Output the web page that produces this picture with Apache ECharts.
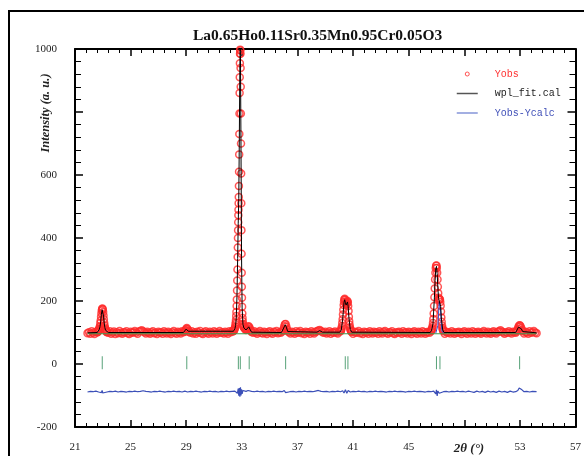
<!DOCTYPE html>
<head>
  <meta charset="utf-8">
  <title>La0.65Ho0.11Sr0.35Mn0.95Cr0.05O3</title>
  <script src="https://cdn.jsdelivr.net/npm/echarts@6/dist/echarts.min.js"></script>
  <style>
    html, body { margin: 0; padding: 0; background: #fff; }
  </style>
</head>
<body>
  <div id="main" style="width: 584px;height:456px;"></div>
  <script>
    // observed intensity [2theta, counts]
    var yObs = [
      [21.9,98],[22.0,101],[22.1,96],[22.2,104],[22.3,99],[22.4,95],[22.5,102],[22.6,100],
      [22.625,102],[22.65,103],[22.675,106],[22.7,107],[22.725,110],[22.75,112],[22.775,117],[22.8,121],[22.825,130],[22.85,138],[22.875,150],[22.9,160],[22.925,170],[22.95,175],[22.975,176],[23.0,173],[23.025,165],[23.05,154],[23.075,142],[23.1,131],[23.125,122],[23.15,116],[23.175,111],[23.2,108],[23.225,106],[23.25,104],[23.275,102],[23.3,101],
      [23.4,99],[23.5,104],[23.6,96],[23.7,100],[23.8,103],[23.9,95],[24.0,101],[24.1,98],[24.2,105],[24.3,99],[24.4,96],[24.5,101],[24.6,100],[24.7,104],[24.8,98],[24.9,95],[25.0,102],[25.1,99],[25.2,101],[25.3,105],[25.4,100],[25.5,96],[25.6,103],[25.7,105],[25.8,107],[25.9,104],[26.0,101],[26.1,97],[26.2,102],[26.3,99],[26.4,96],[26.5,101],[26.6,104],[26.7,98],[26.8,100],[26.9,95],[27.0,102],[27.1,99],[27.2,101],[27.3,96],[27.4,104],[27.5,100],[27.6,97],[27.7,102],[27.8,99],[27.9,95],[28.0,101],[28.1,105],[28.2,99],[28.3,96],[28.4,102],[28.5,100],[28.6,97],[28.7,104],[28.8,101],
      [28.85,102],[28.9,105],[28.95,108],[29.0,112],[29.05,114],[29.1,110],[29.15,105],[29.2,102],
      [29.3,99],[29.4,104],[29.5,97],[29.6,101],[29.7,96],[29.8,102],[29.9,100],[30.0,105],[30.1,98],[30.2,95],[30.3,101],[30.4,104],[30.5,99],[30.6,96],[30.7,102],[30.8,100],[30.9,97],[31.0,104],[31.1,101],[31.2,96],[31.3,100],[31.4,105],[31.5,99],[31.6,101],[31.7,97],[31.8,102],[31.9,100],[32.0,96],[32.1,104],[32.2,101],[32.3,105],[32.35,103],
      [32.4,105],[32.425,106],[32.45,108],[32.475,111],[32.5,114],[32.525,119],[32.55,126],[32.565,132],[32.58,140],[32.595,152],[32.61,165],[32.625,184],[32.64,205],[32.655,233],[32.67,265],[32.685,300],[32.7,340],[32.71,370],[32.72,400],[32.73,425],[32.74,450],[32.75,472],[32.76,490],[32.77,510],[32.78,530],[32.79,565],[32.8,610],[32.81,665],[32.82,730],[32.83,795],[32.84,860],[32.85,910],[32.86,955],[32.87,985],[32.88,998],[32.89,995],[32.9,985],[32.91,940],[32.92,880],[32.93,795],[32.94,700],[32.95,605],[32.96,510],[32.97,425],[32.98,350],[32.99,290],[33.0,245],[33.01,210],[33.02,182],[33.035,160],[33.05,146],[33.065,136],[33.08,128],[33.095,124],[33.11,120],[33.13,118],[33.15,116],[33.2,113],[33.25,110],[33.3,108],
      [33.35,110],[33.4,113],[33.45,118],[33.5,120],[33.55,116],[33.6,110],[33.65,105],[33.7,102],[33.8,99],[33.9,104],[34.0,100],[34.1,96],[34.2,101],[34.3,105],[34.4,99],[34.5,97],[34.6,102],[34.7,100],[34.8,95],[34.9,101],[35.0,104],[35.1,99],[35.2,96],[35.3,102],[35.4,100],[35.5,105],[35.6,98],[35.7,101],[35.8,99],
      [35.9,103],[35.95,106],[36.0,112],[36.05,120],[36.1,126],[36.15,127],[36.2,119],[36.25,110],[36.3,104],
      [36.4,101],[36.5,97],[36.6,102],[36.7,100],[36.8,96],[36.9,104],[37.0,99],[37.1,101],[37.2,105],[37.3,98],[37.4,100],[37.5,95],[37.6,102],[37.7,99],[37.8,101],[37.9,96],[38.0,104],[38.1,100],[38.2,97],[38.3,102],[38.4,104],[38.5,106],[38.6,108],[38.7,105],[38.8,101],[38.9,99],[39.0,102],[39.1,97],[39.2,100],[39.3,104],[39.4,96],[39.5,101],[39.6,99],[39.7,103],[39.8,100],[39.9,97],[40.0,103],
      [40.1,104],[40.125,106],[40.15,109],[40.175,114],[40.2,120],[40.225,130],[40.25,142],[40.275,157],[40.3,172],[40.325,187],[40.35,198],[40.375,205],[40.4,207],[40.425,203],[40.45,197],[40.475,191],[40.5,188],[40.525,190],[40.55,194],[40.575,198],[40.6,200],[40.625,195],[40.65,184],[40.675,168],[40.7,150],[40.725,136],[40.75,125],[40.775,117],[40.8,112],[40.825,108],[40.85,105],[40.875,103],[40.9,102],
      [41.0,96],[41.1,102],[41.2,99],[41.3,101],[41.4,105],[41.5,98],[41.6,100],[41.7,95],[41.8,102],[41.9,99],[42.0,101],[42.1,96],[42.2,104],[42.3,100],[42.4,97],[42.5,102],[42.6,99],[42.7,101],[42.8,96],[42.9,104],[43.0,100],[43.1,97],[43.2,102],[43.3,105],[43.4,99],[43.5,96],[43.6,101],[43.7,100],[43.8,104],[43.9,98],[44.0,95],[44.1,101],[44.2,99],[44.3,102],[44.4,100],[44.5,96],[44.6,104],[44.7,99],[44.8,101],[44.9,97],[45.0,102],[45.1,100],[45.2,95],[45.3,101],[45.4,104],[45.5,99],[45.6,96],[45.7,102],[45.8,100],[45.9,97],[46.0,104],[46.1,101],[46.2,96],[46.3,100],[46.4,102],[46.5,99],
      [46.6,104],[46.625,106],[46.65,108],[46.675,111],[46.7,115],[46.725,121],[46.75,130],[46.775,143],[46.8,160],[46.825,184],[46.85,212],[46.875,240],[46.9,268],[46.925,290],[46.95,305],[46.975,312],[47.0,313],[47.025,305],[47.05,290],[47.075,268],[47.1,245],[47.125,225],[47.15,210],[47.175,205],[47.2,204],[47.225,206],[47.25,205],[47.275,197],[47.3,185],[47.325,167],[47.35,148],[47.375,134],[47.4,122],[47.425,115],[47.45,110],[47.475,107],[47.5,104],
      [47.6,96],[47.7,102],[47.8,99],[47.9,101],[48.0,97],[48.1,104],[48.2,100],[48.3,96],[48.4,101],[48.5,99],[48.6,102],[48.7,100],[48.8,95],[48.9,101],[49.0,104],[49.1,99],[49.2,96],[49.3,102],[49.4,100],[49.5,97],[49.6,104],[49.7,101],[49.8,96],[49.9,100],[50.0,102],[50.1,99],[50.2,96],[50.3,101],[50.4,105],[50.5,100],[50.6,97],[50.7,102],[50.8,99],[50.9,96],[51.0,101],[51.1,104],[51.2,100],[51.3,97],[51.4,102],[51.5,104],[51.6,107],[51.7,103],[51.8,100],[51.9,96],[52.0,101],[52.1,99],[52.2,104],[52.3,100],[52.4,97],[52.5,102],[52.6,101],[52.7,99],
      [52.75,103],[52.8,107],[52.85,112],[52.9,118],[52.95,122],[53.0,123],[53.05,120],[53.1,114],[53.15,108],[53.2,104],
      [53.3,97],[53.4,102],[53.5,100],[53.6,96],[53.7,104],[53.8,99],[53.9,101],[54.0,105],[54.1,100],[54.2,98]
    ];

    // calculated profile
    var yCalc = [
      [21.9,99],[22.6,100],[22.7,105],[22.75,110],[22.8,119],[22.85,136],[22.9,158],[22.95,172],[23.0,170],[23.05,152],[23.1,130],[23.15,115],[23.2,107],[23.3,101],[23.4,100],
      [28.8,100],[28.9,104],[29.0,111],[29.05,112],[29.15,104],[29.25,100],
      [32.4,104],[32.5,112],[32.55,122],[32.6,145],[32.65,215],[32.7,335],[32.74,445],[32.78,525],[32.82,720],[32.86,950],[32.88,1000],[32.9,980],[32.94,690],[32.98,340],[33.02,178],[33.08,126],[33.15,114],[33.3,108],[33.4,112],[33.5,118],[33.6,109],[33.7,101],
      [35.85,100],[35.95,105],[36.05,118],[36.12,125],[36.2,117],[36.3,103],[36.4,100],
      [38.4,101],[38.6,106],[38.8,101],[40.05,101],[40.15,108],[40.25,140],[40.35,196],[40.4,204],[40.45,194],[40.5,187],[40.55,192],[40.6,197],[40.65,182],[40.7,148],[40.8,110],[40.9,101],[41.0,100],
      [46.55,100],[46.65,107],[46.75,128],[46.85,210],[46.9,265],[46.95,303],[47.0,310],[47.05,287],[47.1,242],[47.15,208],[47.2,202],[47.25,203],[47.3,183],[47.35,146],[47.45,108],[47.55,100],
      [52.7,100],[52.8,106],[52.9,117],[53.0,121],[53.1,112],[53.2,103],[53.3,100],[54.2,99]
    ];

    // difference curve, shifted below the pattern
    var yDiff = [
      [21.9,-89],[22.1,-87],[22.3,-88],[22.5,-86],[22.7,-89],[22.8,-85],[22.9,-91],[22.95,-84],[23.0,-92],[23.1,-86],[23.3,-89],[23.5,-87],[23.7,-88],[23.9,-86],[24.1,-89],[24.3,-87],[24.5,-88],[24.7,-89],[24.9,-87],[25.1,-88],[25.3,-86],[25.5,-88],[25.7,-87],[25.9,-85],[26.1,-87],[26.3,-88],[26.5,-89],[26.7,-87],[26.9,-88],[27.1,-86],[27.3,-88],[27.5,-89],[27.7,-87],[27.9,-88],[28.1,-86],[28.3,-88],[28.5,-87],[28.7,-89],[28.9,-86],[29.0,-83],[29.1,-89],[29.3,-87],[29.5,-88],[29.7,-86],[29.9,-88],[30.1,-89],[30.3,-87],[30.5,-88],[30.7,-86],[30.9,-88],[31.1,-87],[31.3,-89],[31.5,-87],[31.7,-88],[31.9,-86],[32.1,-88],[32.3,-87],[32.5,-86],
      [32.6,-84],[32.68,-93],[32.74,-78],[32.78,-101],[32.82,-76],[32.86,-104],[32.9,-74],[32.94,-100],[32.98,-80],[33.02,-95],[33.08,-84],[33.15,-90],[33.3,-87],[33.45,-84],[33.55,-90],[33.7,-87],
      [33.9,-88],[34.1,-86],[34.3,-88],[34.5,-87],[34.7,-89],[34.9,-87],[35.1,-88],[35.3,-86],[35.5,-88],[35.7,-87],[35.9,-88],[36.05,-84],[36.15,-91],[36.25,-86],[36.45,-88],[36.7,-87],[36.9,-89],[37.1,-87],[37.3,-88],[37.5,-86],[37.7,-88],[37.9,-87],[38.1,-88],[38.3,-86],[38.5,-84],[38.7,-87],[38.9,-88],[39.1,-87],[39.3,-89],[39.5,-87],[39.7,-88],[39.9,-86],[40.1,-88],
      [40.25,-85],[40.35,-92],[40.45,-82],[40.55,-93],[40.65,-84],[40.8,-89],
      [41.0,-87],[41.2,-88],[41.4,-86],[41.6,-88],[41.8,-87],[42.0,-89],[42.2,-87],[42.4,-88],[42.6,-86],[42.8,-88],[43.0,-87],[43.2,-88],[43.4,-89],[43.6,-87],[43.8,-88],[44.0,-86],[44.2,-88],[44.4,-87],[44.6,-88],[44.8,-89],[45.0,-87],[45.2,-88],[45.4,-86],[45.6,-88],[45.8,-87],[46.0,-88],[46.2,-89],[46.4,-87],[46.6,-88],[46.8,-86],
      [46.9,-84],[46.95,-95],[47.0,-82],[47.05,-101],[47.1,-86],[47.2,-93],[47.3,-87],
      [47.5,-88],[47.7,-87],[47.9,-89],[48.1,-87],[48.3,-88],[48.5,-86],[48.7,-88],[48.9,-87],[49.1,-89],[49.3,-86],[49.5,-88],[49.7,-90],[49.9,-86],[50.1,-89],[50.3,-87],[50.5,-90],[50.7,-86],[50.9,-89],[51.1,-87],[51.3,-90],[51.5,-86],[51.7,-89],[51.9,-87],[52.1,-90],[52.3,-86],[52.5,-89],[52.7,-88],
      [52.85,-84],[52.95,-76],[53.05,-75],[53.15,-82],[53.3,-88],[53.5,-87],[53.7,-89],[53.9,-87],[54.2,-88]
    ];

    // background and second-phase component
    var yBack = [[21.9,96],[54.2,96]];
    var yPhase2 = [[46.95,98],[47.05,104],[47.1,122],[47.15,160],[47.2,196],[47.25,200],[47.3,168],[47.35,124],[47.4,104],[47.5,98]];

    // Bragg reflection positions
    var braggPos = [22.96, 29.04, 32.75, 32.89, 33.53, 36.15, 40.44, 40.63, 47.0, 47.25, 52.98];

    var xTicks = [21, 25, 29, 33, 37, 41, 45, 49, 53, 57];
    var yTicks = [-200, 0, 200, 400, 600, 800, 1000];

    var serif = 'Liberation Serif';
    var mono = 'Liberation Mono';

    var myChart = echarts.init(document.getElementById('main'));

    var axisCommon = {
      type: 'value',
      splitLine: { show: false },
      axisLine: { show: true, onZero: false, lineStyle: { color: '#000', width: 2 } },
      axisTick: { show: true, inside: true, length: 7, lineStyle: { color: '#000', width: 1.5 } },
      minorTick: { show: true, splitNumber: 5, length: 4, lineStyle: { color: '#000', width: 1 } },
      minorSplitLine: { show: false }
    };

    var option = {
      animation: false,
      title: {
        text: 'La0.65Ho0.11Sr0.35Mn0.95Cr0.05O3',
        left: 193,
        top: 28,
        padding: 0,
        textStyle: { fontFamily: serif, fontWeight: 'bold', fontSize: 15.5, color: '#111' }
      },
      legend: {
        orient: 'vertical',
        left: 456,
        top: 69,
        itemWidth: 21,
        itemHeight: 4,
        itemGap: 9.5,
        padding: 0,
        textStyle: { fontFamily: mono, fontSize: 10 },
        formatter: function (n) { return '  ' + n; },
        data: [
          { name: 'Yobs', textStyle: { color: '#ff3030' }, itemStyle: { borderWidth: 1 } },
          { name: 'wpl_fit.cal', textStyle: { color: '#222' }, itemStyle: { opacity: 0 }, lineStyle: { width: 1.5, color: '#555' } },
          { name: 'Yobs-Ycalc', textStyle: { color: '#4050b8' }, itemStyle: { opacity: 0 }, lineStyle: { width: 1.5, color: '#8494d8' } }
        ]
      },
      grid: { left: 75, right: 8, top: 49, bottom: 29 },
      xAxis: [
        Object.assign({}, axisCommon, {
          position: 'bottom',
          min: xTicks[0], max: xTicks[xTicks.length - 1], interval: 4,
          axisLabel: {
            margin: 15, fontFamily: serif, fontSize: 11, color: '#222',
            formatter: function (v) { return v === 49 ? '' : v; }
          }
        }),
        Object.assign({}, axisCommon, {
          position: 'top',
          min: xTicks[0], max: xTicks[xTicks.length - 1], interval: 4,
          axisLabel: { show: false }
        })
      ],
      yAxis: [
        Object.assign({}, axisCommon, {
          position: 'left',
          min: yTicks[0], max: yTicks[yTicks.length - 1], interval: 200,
          axisTick: { show: true, inside: true, length: 8, lineStyle: { color: '#000', width: 1.5 } },
          minorTick: { show: true, splitNumber: 5, length: 6, lineStyle: { color: '#000', width: 1 } },
          axisLabel: {
            margin: 18, fontFamily: serif, fontSize: 11, color: '#222',
            formatter: function (v) { return v === 800 ? '' : v; }
          }
        }),
        Object.assign({}, axisCommon, {
          position: 'right',
          min: yTicks[0], max: yTicks[yTicks.length - 1], interval: 200,
          axisTick: { show: true, inside: true, length: 8, lineStyle: { color: '#000', width: 1.5 } },
          minorTick: { show: true, splitNumber: 5, length: 6, lineStyle: { color: '#000', width: 1 } },
          axisLabel: { show: false }
        })
      ],
      graphic: [
        {
          type: 'polyline', silent: true,
          shape: { points: [[9, 456], [9, 11], [584, 11]] },
          style: { stroke: '#000', lineWidth: 2, fill: null }
        },
        {
          type: 'text', x: 46, y: 113, rotation: Math.PI / 2,
          style: {
            text: 'Intensity (a. u.)', fontFamily: serif, fontStyle: 'italic', fontWeight: 'bold',
            fontSize: 12.5, fill: '#222', align: 'center', verticalAlign: 'middle'
          }
        },
        {
          type: 'text', x: 469, y: 449,
          style: {
            text: '2θ (°)', fontFamily: serif, fontStyle: 'italic', fontWeight: 'bold',
            fontSize: 13, fill: '#222', align: 'center', verticalAlign: 'middle'
          }
        }
      ],
      series: [
        {
          name: 'Yobs', type: 'scatter', data: yObs,
          symbol: 'circle', symbolSize: 7, z: 2,
          itemStyle: { color: 'rgba(255,255,255,0)', borderColor: '#ff2a2a', borderWidth: 1.5 }
        },
        {
          name: 'background', type: 'line', data: yBack, symbol: 'none', z: 3,
          lineStyle: { color: '#3c9a4c', width: 1 }
        },
        {
          name: 'phase2', type: 'line', data: yPhase2, symbol: 'none', z: 3,
          lineStyle: { color: '#3050d0', width: 1 }
        },
        {
          name: 'wpl_fit.cal', type: 'line', data: yCalc, symbol: 'none', z: 4,
          color: '#222', lineStyle: { color: '#000', width: 1 }
        },
        {
          name: 'Yobs-Ycalc', type: 'line', data: yDiff, symbol: 'none', z: 4,
          color: '#7d8fd6', lineStyle: { color: '#3b4fb8', width: 1.2 }
        },
        {
          name: 'Bragg', type: 'scatter', z: 4,
          data: braggPos.map(function (p) { return [p, 4]; }),
          symbol: 'rect', symbolSize: [1, 13],
          itemStyle: { color: '#2e8b57' }
        }
      ]
    };

    myChart.setOption(option);
  </script>
</body>
